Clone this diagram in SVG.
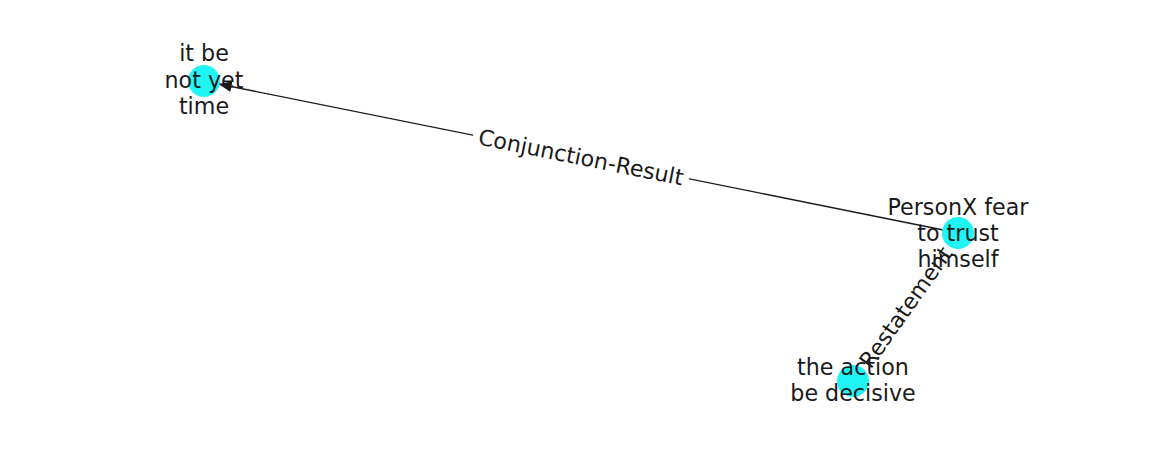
<svg xmlns="http://www.w3.org/2000/svg" width="1162" height="462" viewBox="0 0 1162 462">
<defs>
<style>
.edge{stroke:#1a1a1a;stroke-width:1.3;fill:none}
.node{fill:#1ff5f5}
.lbl{font-family:"DejaVu Sans",sans-serif;font-size:22.2px;fill:#1a1a1a;text-anchor:middle;dominant-baseline:central}
.ebox{fill:#ffffff;stroke:none}
</style>
<marker id="arr" markerUnits="userSpaceOnUse" markerWidth="14" markerHeight="12" refX="13" refY="6" orient="auto">
<path d="M0,0.5 L13,6 L0,11.5 z" fill="#1a1a1a"/>
</marker>
</defs>
<rect width="1162" height="462" fill="#ffffff"/>
<g id="edges">
<line class="edge" x1="943.3" y1="230" x2="218.7" y2="84" marker-end="url(#arr)"/>
<line class="edge" x1="949.3" y1="245.2" x2="861.7" y2="368.8" marker-end="url(#arr)"/>
<g transform="translate(581,157) rotate(11.4)">
<rect class="ebox" x="-110" y="-15" width="220" height="30"/>
<text class="lbl" x="0" y="0">Conjunction-Result</text>
</g>
<g transform="translate(905.5,307) rotate(-54.6)">
<rect class="ebox" x="-77" y="-15" width="154" height="30"/>
<text class="lbl" x="0" y="0">Restatement</text>
</g>
</g>
<g id="node-it-be-not-yet-time">
<circle class="node" cx="204" cy="81" r="16"/>
<text class="lbl" x="204" y="53">it be</text>
<text class="lbl" x="204" y="80">not yet</text>
<text class="lbl" x="204" y="106">time</text>
</g>
<g id="node-personx">
<circle class="node" cx="958" cy="233" r="16"/>
<text class="lbl" x="958" y="207">PersonX fear</text>
<text class="lbl" x="958" y="233">to trust</text>
<text class="lbl" x="958" y="259">himself</text>
</g>
<g id="node-action">
<circle class="node" cx="853" cy="381" r="16"/>
<text class="lbl" x="853" y="367">the action</text>
<text class="lbl" x="853" y="393">be decisive</text>
</g>
</svg>
